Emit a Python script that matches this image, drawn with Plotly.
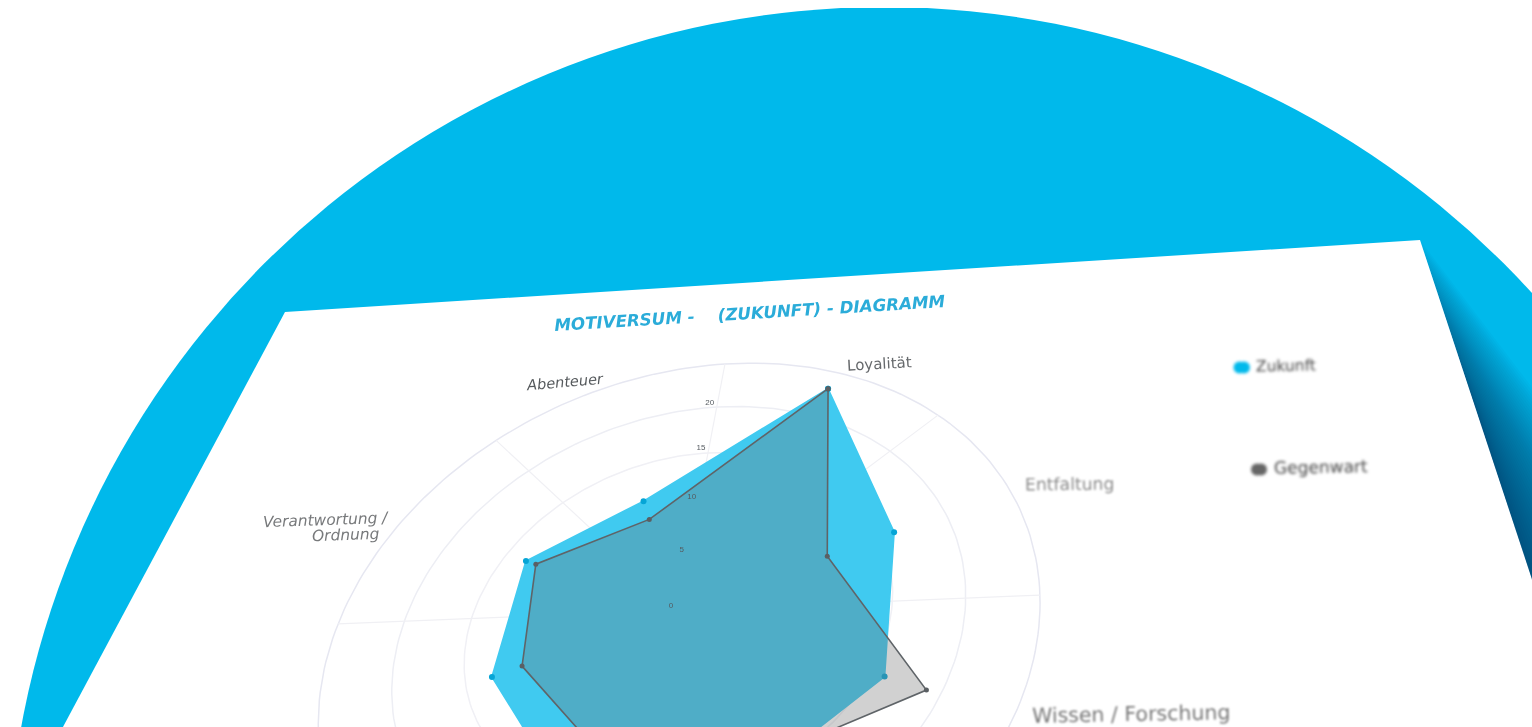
import numpy as np
import plotly.graph_objects as go

# ---------- data ----------
categories = ["Loyalität", "Entfaltung", "Wissen / Forschung", "", "", "", "Verantwortung /<br>Ordnung", "Abenteuer"]
zukunft = [23.1, 16.05, 16.0, 15.5, 14.6, 13.2, 13.2, 11.2]
gegenwart = [23.1, 11.0, 19.0, 14.0, 11.2, 11.1, 12.3, 9.2]
radial_ticks = [0, 5, 10, 15, 20]
ring_values = [5, 10, 15, 20, 25]
legend_names = ["Zukunft", "Gegenwart"]
title_text = "MOTIVERSUM -    (ZUKUNFT) - DIAGRAMM"

# ---------- perspective of the tilted sheet (plane -> page pixels) ----------
RMAX = 25.0
H = np.array([[329.4, 176.0, 678.0],
              [-33.5, -181.2, 610.0],
              [-0.0313, 0.178, 1.0]])


def project(r, theta_deg):
    r = np.asarray(r, dtype=float) / RMAX
    t = np.radians(theta_deg)
    u, v = r * np.sin(t), r * np.cos(t)
    w = H[2, 0] * u + H[2, 1] * v + H[2, 2]
    return (H[0, 0] * u + H[0, 1] * v + H[0, 2]) / w, (H[1, 0] * u + H[1, 1] * v + H[1, 2]) / w


n = len(categories)
vertex_angles = [22.5 + i * 360.0 / n for i in range(n)]
spoke_angles = [i * 360.0 / n for i in range(n)]

BLUE = "#00B9EB"
fig = go.Figure()

# grid
ring_colors = {25: "#E6E7F1", 20: "#EDEEF4", 15: "#F0F0F5", 10: "#F0F0F5", 5: "#F0F0F5"}
for val in ring_values:
    th = np.linspace(0, 360, 241)
    x, y = project(np.full_like(th, val), th)
    fig.add_trace(go.Scatter(x=x, y=y, mode="lines", line=dict(color=ring_colors[val], width=1.5),
                             hoverinfo="skip", showlegend=False))
for a in spoke_angles:
    x, y = project(np.array([0, RMAX]), np.array([a, a]))
    fig.add_trace(go.Scatter(x=x, y=y, mode="lines", line=dict(color="#F0F0F4", width=1.2),
                             hoverinfo="skip", showlegend=False))

# series
for vals, name, fill, lc, mc, ms in [
    (zukunft, legend_names[0], "#40CAF0", "#40CAF0", "#06A5D6", 6),
    (gegenwart, legend_names[1], "rgba(111,111,111,0.32)", "#5F6468", "#5A5F63", 5),
]:
    x, y = project(np.array(vals + vals[:1]), np.array(vertex_angles + vertex_angles[:1]))
    fig.add_trace(go.Scatter(x=x, y=y, mode="lines+markers", fill="toself", fillcolor=fill, name=name,
                             line=dict(color=lc, width=1.6), marker=dict(color=mc, size=ms),
                             showlegend=False))

# radial tick labels
tx, ty = project(np.array(radial_ticks), np.zeros(len(radial_ticks)))
fig.add_trace(go.Scatter(x=tx - 7, y=ty - 4.5, mode="text", text=[str(t) for t in radial_ticks],
                         textfont=dict(family="Liberation Sans", size=8, color="#555B60"),
                         hoverinfo="skip", showlegend=False))

# legend markers on the sheet
fig.add_trace(go.Scatter(x=[1239.5, 1244], y=[367.5, 367.5], mode="markers", hoverinfo="skip", showlegend=False,
                         marker=dict(color=BLUE, size=12, symbol="circle")))
fig.add_trace(go.Scatter(x=[1257, 1261], y=[469.5, 469.5], mode="markers", hoverinfo="skip", showlegend=False,
                         marker=dict(color="#666666", size=12, symbol="circle")))

# ---------- sheet, disc and shadow ----------
shapes = [dict(type="circle", xref="x", yref="y", x0=884 - 877, x1=884 + 877, y0=884 - 877, y1=884 + 877,
               fillcolor=BLUE, line_width=0, layer="below"),
          dict(type="rect", xref="x", yref="y", x0=0, x1=1532, y0=0, y1=8, fillcolor="white",
               line_width=0, layer="below")]
layers = 40
for i in range(layers):
    w = 210 * (1 - i / layers)
    y0 = 240 + i * 4
    x0 = 1420 + 0.329 * (y0 - 240)
    shapes.append(dict(type="path", xref="x", yref="y", layer="below", line_width=0,
                       fillcolor="rgba(4,60,85,0.024)",
                       path=f"M {x0} {y0} L {1580 + w} 727 L 1580 727 Z"))
shapes.append(dict(type="path", xref="x", yref="y", layer="below", line_width=0, fillcolor="white",
                   path="M 285 312 L 1420 240 L 1585 740 L 56 740 Z"))

# ---------- texts ----------
F = "DejaVu Sans"
anns = []


def note(text, x, y, size, color, angle, **kw):
    anns.append(dict(text=text, x=x, y=y, xref="x", yref="y", showarrow=False, textangle=angle,
                     font=dict(family=F, size=size, color=color), **kw))


verant, ordn = categories[6].split("<br>")
note(f"<b><i>{title_text}</i></b>", 750, 313, 16.7, "#2BACD9", -3.5)
note(f"<i>{categories[7]}</i>", 565, 382, 14.5, "#55595C", -5)
note(categories[0], 879, 364, 15, "#66696C", -3)
note(categories[1], 1069, 484, 17.2, "#8C8C8C", -0.5)
note(categories[2], 1131, 714, 20.5, "#777777", -1)
note(f"<i>{verant}</i>", 326, 520, 15.4, "#77797B", -2)
note(f"<i>{ordn}</i>", 345, 535, 15.4, "#77797B", -2)
note(legend_names[0], 1286, 366, 15.5, "#444444", -1)
note(legend_names[1], 1321, 467, 17, "#444444", -1)

fig.update_layout(
    width=1532, height=727, margin=dict(l=0, r=0, t=0, b=0),
    paper_bgcolor="white", plot_bgcolor="white", showlegend=False,
    xaxis=dict(range=[0, 1532], visible=False, fixedrange=True),
    yaxis=dict(range=[727, 0], visible=False, fixedrange=True),
    shapes=shapes, annotations=anns,
)

# soft focus of the photographed sheet
post = """
document.body.style.margin = '0';
document.documentElement.style.overflow = 'hidden';
document.querySelectorAll('.main-svg').forEach(s => s.style.filter = 'blur(0.6px)');
document.querySelectorAll('.annotation').forEach(a => {
  const i = +a.getAttribute('data-index');
  a.style.filter = 'blur(' + (i >= 7 ? 1.6 : (i == 3 || i == 4 ? 0.9 : 0.4)) + 'px)';
});
const tr = document.querySelectorAll('.scatterlayer .trace');
[tr[tr.length - 1], tr[tr.length - 2]].forEach(t => t.style.filter = 'blur(1.4px)');
"""
fig.write_html("out.html", post_script=post, config={"displayModeBar": False})
